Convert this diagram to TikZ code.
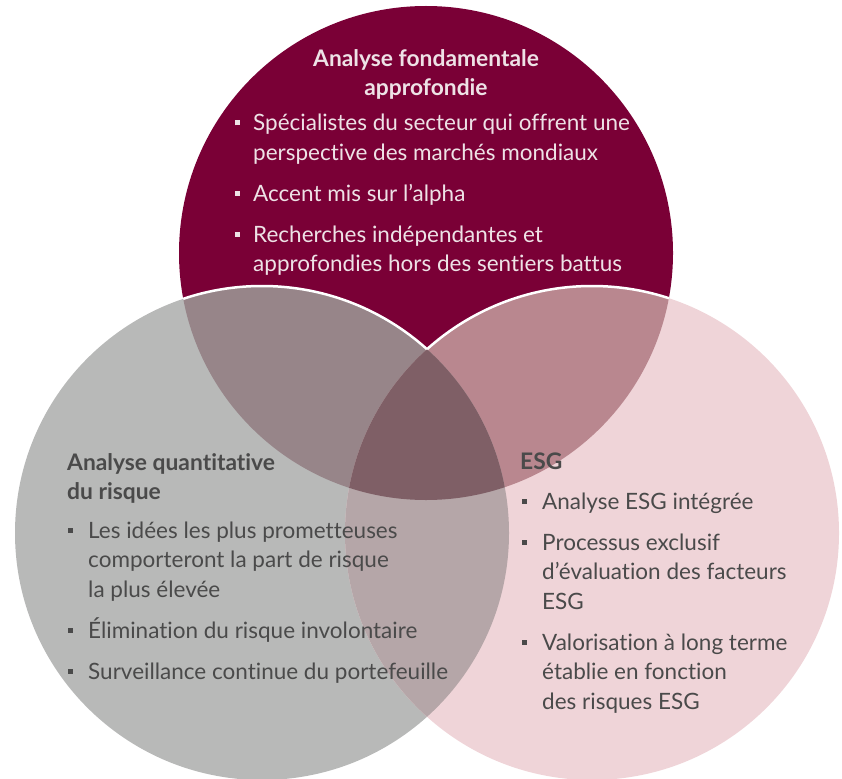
\documentclass[tikz,border=0pt]{standalone}
\usepackage{fontspec}
\setmainfont{Lato}[Ligatures={NoCommon,NoRequired,NoContextual}]
\definecolor{topfill}{HTML}{7A0036}
\definecolor{leftfill}{HTML}{B8B9B8}
\definecolor{rightfill}{HTML}{EFD4D8}
\definecolor{topleft}{HTML}{978589}
\definecolor{topright}{HTML}{B9878F}
\definecolor{leftright}{HTML}{B5A6A8}
\definecolor{allthree}{HTML}{7F5F66}
\definecolor{darktext}{HTML}{4A4A4A}
\definecolor{lighttext}{HTML}{EEE2E6}
\newcommand{\sqbul}{\raisebox{5.5pt}{\rule{5pt}{5pt}}}
\newcommand{\rad}{247}
\begin{document}
\begin{tikzpicture}[x=1pt,y=-1pt,
  headtxt/.style={inner sep=0pt,font=\fontsize{22.8}{29}\selectfont\bfseries},
  listtxt/.style={inner sep=0pt,font=\fontsize{22.5}{29.5}\selectfont}]
\useasboundingbox (0,0) rectangle (842,778);
\coordinate (ctop) at (426,253);
\coordinate (cleft) at (262,533);
\coordinate (cright) at (592,533);
% plain discs
\fill[topfill] (ctop) circle (\rad);
\fill[leftfill] (cleft) circle (\rad);
\fill[rightfill] (cright) circle (\rad);
% overlaps
\begin{scope}
\clip (ctop) circle (\rad);
\fill[topleft] (cleft) circle (\rad);
\fill[topright] (cright) circle (\rad);
\end{scope}
\begin{scope}
\clip (cleft) circle (\rad);
\fill[leftright] (cright) circle (\rad);
\clip (ctop) circle (\rad);
\fill[allthree] (cright) circle (\rad);
\end{scope}
% white rims inside the top disc
\begin{scope}[even odd rule]
\clip (ctop) circle (\rad);
\clip (-10,-10) rectangle (852,788) (cright) circle (\rad);
\draw[white,line width=2.5] (cleft) circle (\rad);
\end{scope}
\begin{scope}[even odd rule]
\clip (ctop) circle (\rad);
\clip (-10,-10) rectangle (852,788) (cleft) circle (\rad);
\draw[white,line width=2.5] (cright) circle (\rad);
\end{scope}
% top disc
\node[headtxt,text=lighttext,anchor=base] (toptitle) at (426,67)
  {\begin{tabular}[t]{@{}c@{}}Analyse fondamentale\\approfondie\end{tabular}};
\node[listtxt,text=lighttext,anchor=base west] (toplist) at (234.5,131)
  {\begin{tabular}[t]{@{}l@{\hspace{13.5pt}}l@{}}
  \sqbul & Spécialistes du secteur qui offrent une\\
         & perspective des marchés mondiaux\\[11.5pt]
  \sqbul & Accent mis sur l’alpha\\[11.5pt]
  \sqbul & Recherches indépendantes et\\
         & approfondies hors des sentiers battus
  \end{tabular}};
% left disc
\node[headtxt,text=darktext,anchor=base west] (lefttitle) at (67,470)
  {\begin{tabular}[t]{@{}l@{}}Analyse quantitative\\du risque\end{tabular}};
\node[listtxt,text=darktext,anchor=base west] (leftlist) at (67.5,538)
  {\begin{tabular}[t]{@{}l@{\hspace{15.5pt}}l@{}}
  \sqbul & Les idées les plus prometteuses\\
         & comporteront la part de risque\\
         & la plus élevée\\[11.5pt]
  \sqbul & Élimination du risque involontaire\\[11.5pt]
  \sqbul & Surveillance continue du portefeuille
  \end{tabular}};
% right disc
\node[headtxt,text=darktext,anchor=base west] (righttitle) at (520,469)
  {\begin{tabular}[t]{@{}l@{}}ESG\end{tabular}};
\node[listtxt,text=darktext,anchor=base west] (rightlist) at (521.5,509)
  {\begin{tabular}[t]{@{}l@{\hspace{15.5pt}}l@{}}
  \sqbul & Analyse ESG intégrée\\[11.5pt]
  \sqbul & Processus exclusif\\
         & d’évaluation des facteurs\\
         & ESG\\[11.5pt]
  \sqbul & Valorisation à long terme\\
         & établie en fonction\\
         & des risques ESG
  \end{tabular}};
\end{tikzpicture}
\end{document}
